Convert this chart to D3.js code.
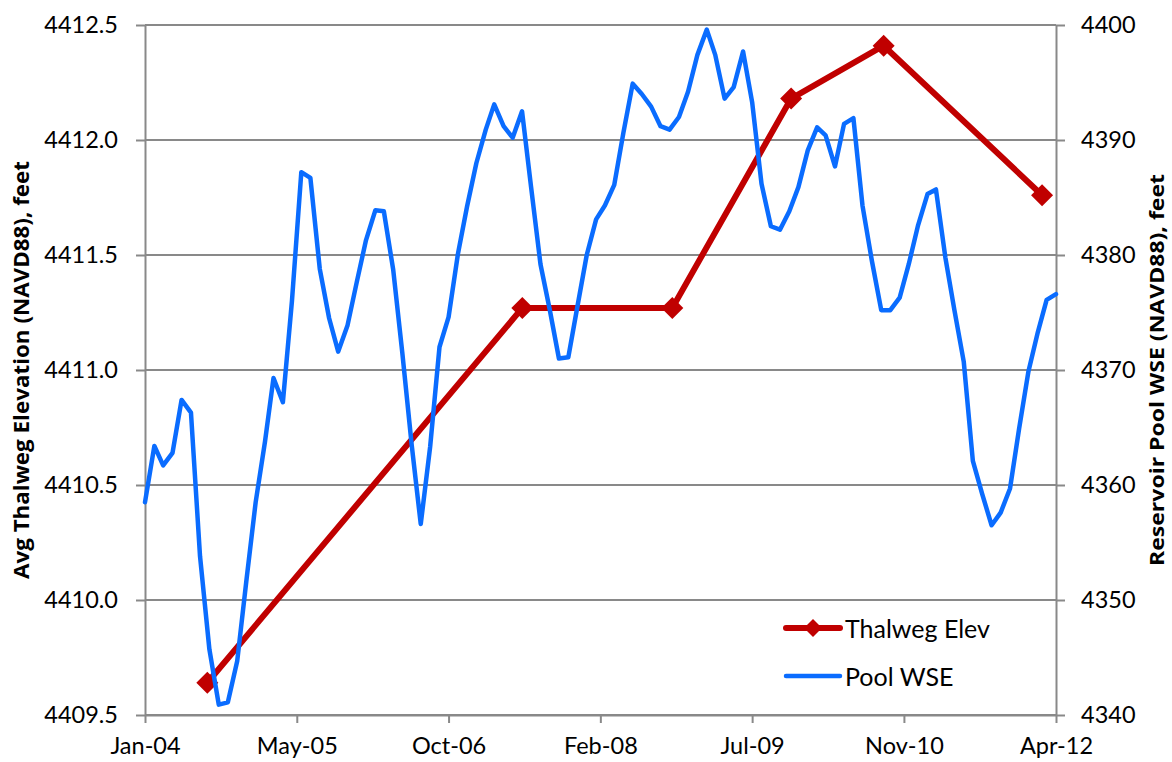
<!DOCTYPE html>
<html>
<head>
<meta charset="utf-8">
<script src="https://cdn.jsdelivr.net/npm/d3@7/dist/d3.min.js"></script>
<style>
  body { margin: 0; background: #fff; }
  svg { display: block; }
  text { font-family: Lato, "Open Sans", "Liberation Sans", sans-serif; fill: #000; }
  .title { font-family: "Liberation Sans Narrow", "Arial Narrow", "Open Sans", sans-serif; font-weight: bold; }
</style>
</head>
<body>
<svg id="chart" width="1172" height="762"></svg>
<script>
// Monthly reservoir pool water-surface elevation, Jan 2004 .. Apr 2012 (ft, NAVD88)
const poolStart = "2004-01-01";
const poolWSE = [
  4358.5, 4363.4, 4361.7, 4362.8, 4367.4, 4366.3, 4353.8, 4345.7, 4340.9, 4341.1, 4344.7, 4351.6,
  4358.5, 4363.8, 4369.3, 4367.2, 4376.0, 4387.2, 4386.7, 4378.8, 4374.5, 4371.6, 4373.9, 4377.6,
  4381.3, 4383.9, 4383.8, 4378.7, 4371.5, 4363.5, 4356.6, 4363.3, 4372.0, 4374.6, 4380.1, 4384.2,
  4388.0, 4390.9, 4393.1, 4391.2, 4390.2, 4392.5, 4385.9, 4379.2, 4375.2, 4371.0, 4371.1, 4375.5,
  4380.0, 4383.1, 4384.3, 4386.1, 4390.6, 4394.9, 4394.0, 4392.9, 4391.2, 4390.9, 4392.0, 4394.2,
  4397.4, 4399.6, 4397.4, 4393.6, 4394.6, 4397.7, 4393.3, 4386.2, 4382.5, 4382.2, 4383.8, 4385.9,
  4389.1, 4391.1, 4390.4, 4387.7, 4391.4, 4391.9, 4384.3, 4379.5, 4375.2, 4375.2, 4376.3, 4379.2,
  4382.6, 4385.3, 4385.7, 4379.8, 4375.2, 4370.7, 4362.1, 4359.2, 4356.5, 4357.6, 4359.7, 4364.9,
  4369.9, 4373.3, 4376.1, 4376.6
];

// Survey dates and average thalweg elevation (ft, NAVD88)
const thalwegDates = ["2004-07-25", "2007-06-02", "2008-10-10", "2009-11-07", "2010-09-09", "2012-02-15"];
const thalwegElev  = [4409.64, 4411.27, 4411.27, 4412.18, 4412.41, 4411.76];

// Axis ticks
const xTickDates = ["2004-01-01", "2005-05-17", "2006-10-01", "2008-02-15", "2009-07-01", "2010-11-15", "2012-04-01"];
const leftTicks  = [4409.5, 4410.0, 4410.5, 4411.0, 4411.5, 4412.0, 4412.5];
const rightTicks = [4340, 4350, 4360, 4370, 4380, 4390, 4400];

const seriesNames = ["Thalweg Elev", "Pool WSE"];
const leftTitle  = "Avg Thalweg Elevation (NAVD88), feet";
const rightTitle = "Reservoir Pool WSE (NAVD88), feet";

const parse = d3.timeParse("%Y-%m-%d");
const svg = d3.select("#chart");

const plot = { left: 145, right: 1056, top: 25, bottom: 715 };
const gridColor = "#898989";
const red = "#C00000";
const blue = "#0A6CFF";

const x = d3.scaleTime()
  .domain([parse(xTickDates[0]), parse(xTickDates[xTickDates.length - 1])])
  .range([plot.left, plot.right]);
const yL = d3.scaleLinear().domain([leftTicks[0], leftTicks[leftTicks.length - 1]]).range([plot.bottom, plot.top]);
const yR = d3.scaleLinear().domain([rightTicks[0], rightTicks[rightTicks.length - 1]]).range([plot.bottom, plot.top]);

// Horizontal gridlines
svg.append("g").selectAll("line").data(leftTicks).join("line")
  .attr("x1", plot.left).attr("x2", plot.right)
  .attr("y1", d => yL(d)).attr("y2", d => yL(d))
  .attr("stroke", gridColor).attr("stroke-width", 2);

// Axes
const fontSize = 23.5;
function styleAxis(g) {
  g.attr("font-family", null).attr("font-size", null);
  g.select(".domain").attr("stroke", gridColor).attr("stroke-width", 2);
  g.selectAll(".tick line").attr("stroke", gridColor).attr("stroke-width", 2);
  g.selectAll(".tick text").attr("font-size", fontSize);
}

svg.append("g")
  .attr("transform", `translate(${plot.left},0)`)
  .call(d3.axisLeft(yL).tickValues(leftTicks).tickFormat(d3.format(".1f")).tickSizeInner(9).tickSizeOuter(0).tickPadding(18))
  .call(styleAxis);

svg.append("g")
  .attr("transform", `translate(${plot.right},0)`)
  .call(d3.axisRight(yR).tickValues(rightTicks).tickFormat(d3.format("d")).tickSizeInner(9).tickSizeOuter(0).tickPadding(16))
  .call(styleAxis);

svg.append("g")
  .attr("transform", `translate(0,${plot.bottom})`)
  .call(d3.axisBottom(x).tickValues(xTickDates.map(parse)).tickFormat(d3.timeFormat("%b-%y")).tickSizeInner(8).tickSizeOuter(0).tickPadding(14))
  .call(styleAxis);

// Axis titles
svg.append("text").attr("class", "title")
  .attr("transform", `translate(21,${(plot.top + plot.bottom) / 2}) rotate(-90)`)
  .attr("text-anchor", "middle").attr("dominant-baseline", "central")
  .attr("font-size", 21)
  .attr("textLength", 418).attr("lengthAdjust", "spacingAndGlyphs")
  .text(leftTitle);

svg.append("text").attr("class", "title")
  .attr("transform", `translate(1156,${(plot.top + plot.bottom) / 2}) rotate(-90)`)
  .attr("text-anchor", "middle").attr("dominant-baseline", "central")
  .attr("font-size", 20)
  .attr("textLength", 392).attr("lengthAdjust", "spacingAndGlyphs")
  .text(rightTitle);

// Thalweg series (primary axis)
const thalweg = thalwegDates.map((d, i) => ({ date: parse(d), value: thalwegElev[i] }));
const diamond = s => `M0,${-s}L${s},0L0,${s}L${-s},0Z`;

svg.append("path")
  .datum(thalweg)
  .attr("fill", "none").attr("stroke", red).attr("stroke-width", 6)
  .attr("stroke-linejoin", "round").attr("stroke-linecap", "round")
  .attr("d", d3.line().x(d => x(d.date)).y(d => yL(d.value)));

svg.append("g").selectAll("path").data(thalweg).join("path")
  .attr("transform", d => `translate(${x(d.date)},${yL(d.value)})`)
  .attr("d", diamond(11)).attr("fill", red);

// Pool WSE series (secondary axis)
const t0 = parse(poolStart);
const pool = poolWSE.map((v, i) => ({ date: d3.timeMonth.offset(t0, i), value: v }));

svg.append("path")
  .datum(pool)
  .attr("fill", "none").attr("stroke", blue).attr("stroke-width", 4.5)
  .attr("stroke-linejoin", "round").attr("stroke-linecap", "round")
  .attr("d", d3.line().x(d => x(d.date)).y(d => yR(d.value)));

// Legend
const legend = svg.append("g").attr("transform", "translate(786,628)");
legend.append("line").attr("x1", 0).attr("x2", 54).attr("y1", 0).attr("y2", 0)
  .attr("stroke", red).attr("stroke-width", 6).attr("stroke-linecap", "round");
legend.append("path").attr("transform", "translate(27,0)").attr("d", diamond(9)).attr("fill", red);
legend.append("text").attr("x", 59).attr("y", 0).attr("dominant-baseline", "central")
  .attr("font-size", 25).text(seriesNames[0]);

legend.append("line").attr("x1", 0).attr("x2", 54).attr("y1", 48).attr("y2", 48)
  .attr("stroke", blue).attr("stroke-width", 4.5).attr("stroke-linecap", "round");
legend.append("text").attr("x", 59).attr("y", 48).attr("dominant-baseline", "central")
  .attr("font-size", 25).text(seriesNames[1]);
</script>
</body>
</html>
